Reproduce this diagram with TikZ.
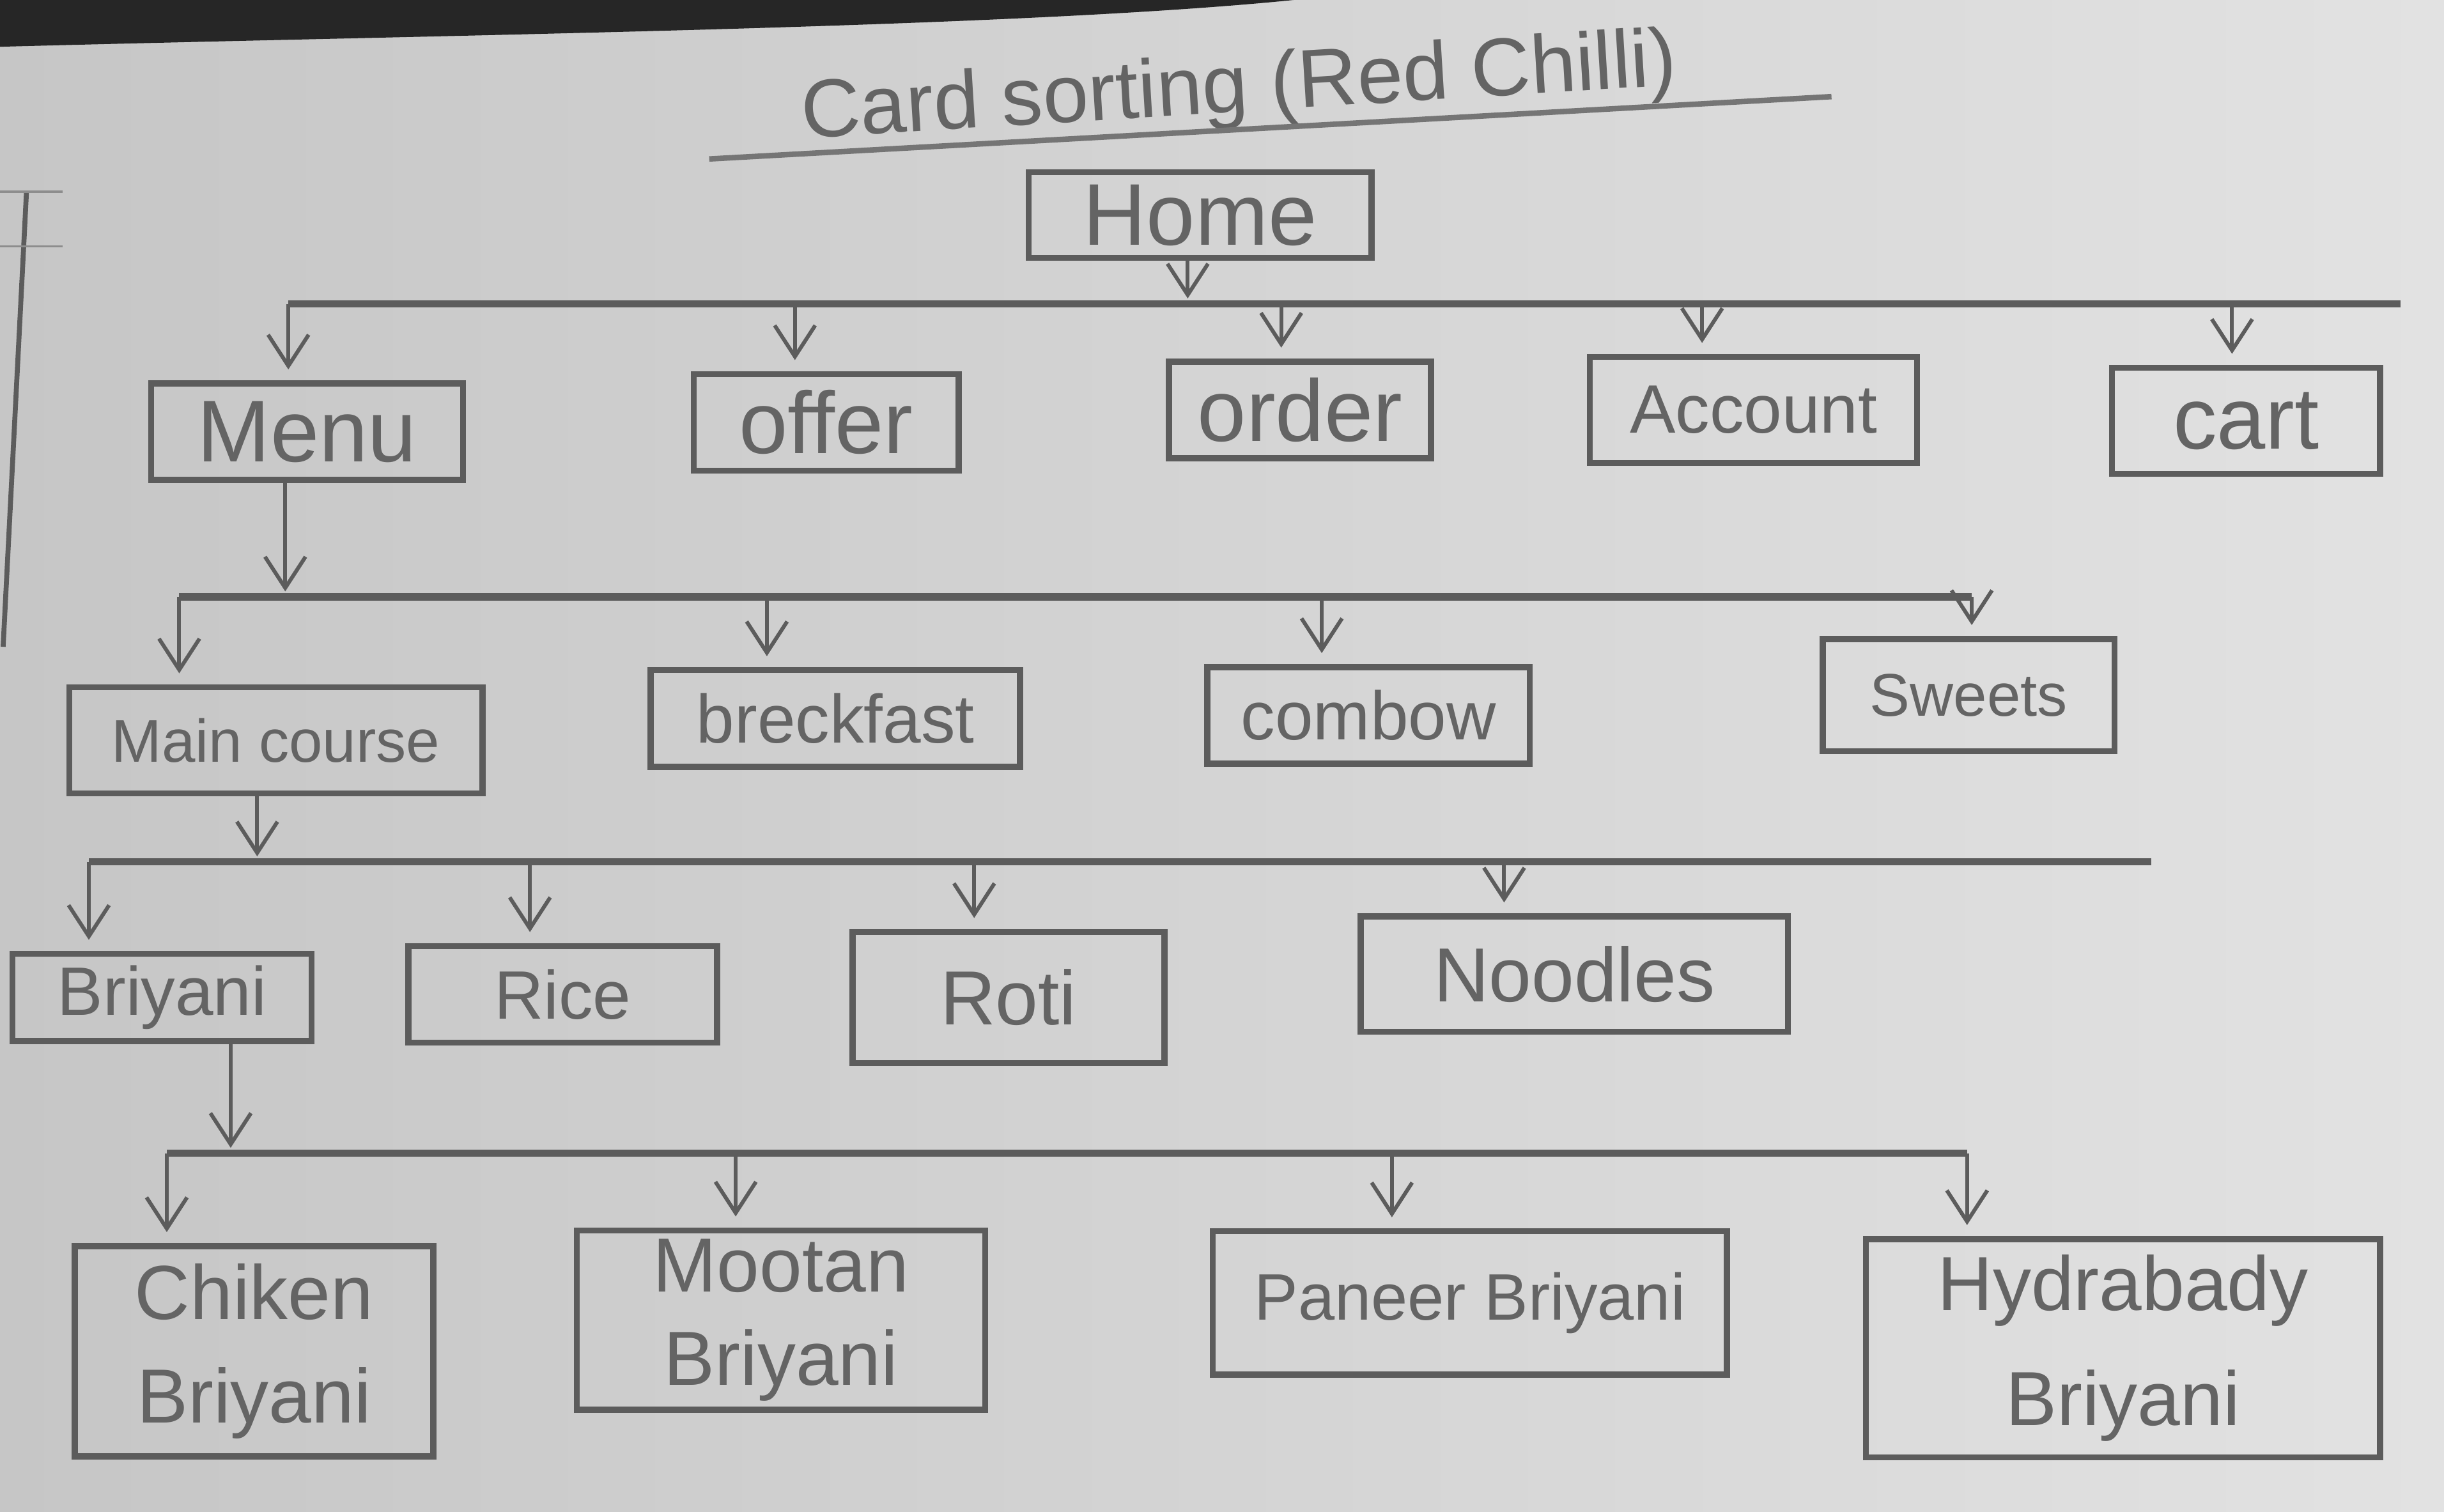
\documentclass[tikz,border=0pt]{standalone}
\usepackage{fontspec}
\setmainfont{Liberation Sans}
\usepackage{xcolor}
\usepackage{tikz}
\usetikzlibrary{
  arrows.meta,
  positioning,
  calc,
}

\definecolor{pencil}{RGB}{92,92,92}
\definecolor{lead}{RGB}{100,100,100}
\definecolor{paperL}{RGB}{198,198,198}
\definecolor{paperR}{RGB}{226,226,226}

\begin{document}
\begin{tikzpicture}[
  font=\fontsize{12.5}{15}\selectfont,
  every node/.style={align=center, text=lead},
  card/.style 2 args={draw=pencil, line width=1.1pt, inner sep=1pt,
                      minimum width=#1cm, minimum height=#2cm},
  big/.style={font=\fontsize{16}{19}\selectfont},
  mid/.style={font=\fontsize{14}{17}\selectfont},
  small/.style={font=\fontsize{11}{14}\selectfont},
  bus/.style={draw=pencil, line width=1.3pt},
  drop/.style={draw=pencil, line width=0.7pt,
               -{Straight Barb[length=2mm,width=2.6mm]}},
]

% paper
\useasboundingbox (0,0) rectangle (15.68,-9.70);
\shade[left color=paperL, right color=paperR] (0,0) rectangle (15.68,-9.70);
\fill[black!85] (0,0) -- (8.30,0) .. controls (6.5,-0.18) and (3,-0.22) .. (0,-0.30) -- cycle;
\draw[pencil, line width=0.9pt] (0.17,-1.23) -- (0.02,-4.15);
\draw[pencil!70, line width=0.4pt] (0,-1.23) -- (0.40,-1.23);
\draw[pencil!70, line width=0.4pt] (0,-1.58) -- (0.40,-1.58);

% title
\node[font=\fontsize{15}{18}\selectfont, rotate=3.5] (title) at (7.95,-0.58)
  {Card sorting (Red Chilli)};
\draw[pencil!85, line width=1pt] (4.55,-1.02) -- (11.75,-0.62);

% level 0 and 1
\node[card={2.20}{0.55}, big] (home) at (7.70,-1.38) {Home};

\node[card={2.00}{0.62}, big] (menu)    at (1.97,-2.77)  {Menu};
\node[card={1.70}{0.62}, big] (offer)   at (5.30,-2.71)  {offer};
\node[card={1.68}{0.62}, big] (order)   at (8.34,-2.63)  {order};
\node[card={2.10}{0.68}]      (account) at (11.25,-2.63) {Account};
\node[card={1.72}{0.68}, big] (cart)    at (14.41,-2.70) {cart};

% level 2
\node[card={2.65}{0.68}, small] (maincourse) at (1.77,-4.75)  {Main course};
\node[card={2.37}{0.62}]        (breakfast)  at (5.36,-4.61)  {breckfast};
\node[card={2.07}{0.62}]        (combos)     at (8.78,-4.59)  {combow};
\node[card={1.87}{0.72}, small] (sweets)     at (12.63,-4.46) {Sweets};

% level 3
\node[card={1.92}{0.56}]      (briyani) at (1.04,-6.40)  {Briyani};
\node[card={1.98}{0.62}]      (rice)    at (3.61,-6.38)  {Rice};
\node[card={2.00}{0.84}, mid] (roti)    at (6.47,-6.40)  {Roti};
\node[card={2.74}{0.74}, mid] (noodles) at (10.10,-6.25) {Noodles};

% level 4
\node[card={2.30}{1.35}, mid] (chiken) at (1.63,-8.67)  {Chiken\\[2pt]Briyani};
\node[card={2.62}{1.15}, mid] (mootan) at (5.01,-8.47)  {Mootan\\Briyani};
\node[card={3.30}{0.92}, font=\fontsize{12}{15}\selectfont]
                              (paneer) at (9.43,-8.36)  {Paneer Briyani};
\node[card={3.30}{1.40}, mid] (hydra)  at (13.62,-8.65) {Hydrabady\\[4pt]Briyani};

% buses
\coordinate (b1w) at (1.85,-1.95);  \coordinate (b1e) at (15.40,-1.95);
\coordinate (b2w) at (1.15,-3.83);  \coordinate (b2e) at (12.65,-3.83);
\coordinate (b3w) at (0.57,-5.53);  \coordinate (b3e) at (13.80,-5.53);
\coordinate (b4w) at (1.07,-7.40);  \coordinate (b4e) at (12.62,-7.40);
\foreach \b in {b1,b2,b3,b4}
  \draw[bus] (\b w) -- (\b e);

% parent -> bus
\foreach \n/\dx/\b in {home/-0.08/b1w, menu/-0.14/b2w,
                       maincourse/-0.12/b3w, briyani/0.44/b4w}{
  \coordinate (\n-out) at ($(\n.south)+(\dx,0)$);
  \draw[drop, shorten >=1pt] (\n-out) -- (\n-out |- \b);
}

% bus -> child
\foreach \n/\dx/\b in {menu/-0.12/b1w, offer/-0.20/b1w, order/-0.12/b1w,
                       account/-0.33/b1w, cart/-0.09/b1w,
                       maincourse/-0.62/b2w, breakfast/-0.44/b2w,
                       combos/-0.30/b2w, sweets/0.02/b2w,
                       briyani/-0.47/b3w, rice/-0.21/b3w, roti/-0.22/b3w,
                       noodles/-0.45/b3w,
                       chiken/-0.56/b4w, mootan/-0.29/b4w,
                       paneer/-0.50/b4w, hydra/-1.00/b4w}{
  \coordinate (\n-in) at ($(\n.north)+(\dx,0)$);
  \draw[drop, shorten >=2pt] (\n-in |- \b) -- (\n-in);
}

\end{tikzpicture}
\end{document}
